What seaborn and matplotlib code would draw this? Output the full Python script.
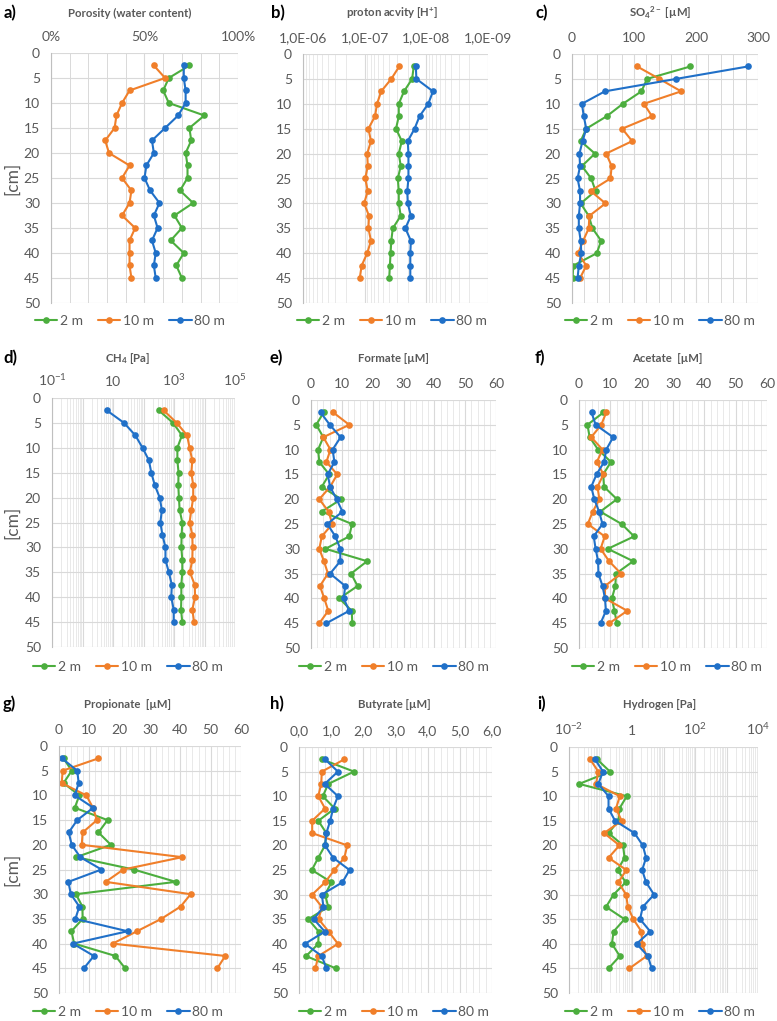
import matplotlib
matplotlib.use("Agg")
import matplotlib.pyplot as plt
import pandas as pd
import seaborn as sns
from matplotlib.lines import Line2D
from matplotlib.ticker import LogLocator, MultipleLocator, NullFormatter

sns.set_theme(style="white")
plt.rcParams["font.family"] = ["Lato", "DejaVu Sans"]
plt.rcParams["mathtext.default"] = "regular"

# depth of each slice [cm]
depth = [2.5, 5, 7.5, 10, 12.5, 15, 17.5, 20, 22.5, 25, 27.5, 30, 32.5, 35, 37.5, 40, 42.5, 45]
sites = ["2 m", "10 m", "80 m"]
colors = ["#4CAE3E", "#F07F2A", "#2070C8"]

# a) porosity [%]
poro_2m = [74, 63, 60, 63, 82, 74, 75, 72, 73, 73, 69, 76, 66, 70, 64, 71, 67, 70]
poro_10m = [55, 61, 42, 38, 35, 34, 29, 31, 42, 38, 43, 42, 38, 45, 42, 42, 42, 43]
poro_80m = [71, 71, 72, 72, 68, 61, 54, 55, 51, 50, 53, 58, 55, 57, 54, 56, 55, 56]

# b) proton activity [H+]
hplus_2m = [1.6e-8, 1.7e-8, 2.3e-8, 2.8e-8, 2.8e-8, 3.1e-8, 2.5e-8, 2.8e-8, 2.6e-8,
            2.9e-8, 2.8e-8, 2.8e-8, 2.6e-8, 3.5e-8, 3.7e-8, 3.8e-8, 3.9e-8, 4.0e-8]
hplus_10m = [2.75e-8, 3.7e-8, 5.4e-8, 6.3e-8, 6.8e-8, 8.7e-8, 7.9e-8, 9.1e-8, 8.9e-8,
             9.8e-8, 8.9e-8, 1.02e-7, 8.5e-8, 8.7e-8, 7.9e-8, 9.1e-8, 1.12e-7, 1.2e-7]
hplus_80m = [1.48e-8, 1.45e-8, 7.8e-9, 9.3e-9, 1.29e-8, 1.55e-8, 2.0e-8, 1.95e-8, 1.95e-8,
             1.95e-8, 2.04e-8, 2.0e-8, 1.78e-8, 2.19e-8, 1.78e-8, 1.82e-8, 1.82e-8, 1.82e-8]

# c) sulfate [uM]
so4_2m = [191, 121, 112, 82, 56, 23, 14, 37, 16, 31, 38, 14, 27, 33, 47, 40, 2, 1]
so4_10m = [105, 141, 176, 116, 129, 81, 97, 55, 64, 62, 30, 54, 28, 27, 18, 10, 23, 13]
so4_80m = [284, 168, 53, 16, 19, 23, 17, 12, 13, 9, 13, 13, 11, 11, 14, 15, 11, 9]

# d) methane [Pa]
ch4_2m = [320, 930, 1820, 1290, 1290, 1410, 1380, 1450, 1530, 1870, 1780, 1740, 1870,
          1870, 1740, 1740, 1700, 1870]
ch4_10m = [460, 1230, 2690, 3240, 3980, 3700, 4270, 4270, 3700, 3240, 3980, 4070, 3980,
           3310, 4790, 4900, 3980, 4570]
ch4_80m = [6.3, 23, 54, 93, 150, 180, 234, 340, 400, 357, 417, 525, 525, 676, 850, 813,
           977, 977]

# e) formate [uM]
formate_2m = [4.1, 1.7, 4.0, 2.3, 2.7, 5.9, 3.5, 9.8, 3.5, 13.3, 12.4, 4.7, 18.2, 13.0,
              15.1, 9.2, 13.2, 13.4]
formate_10m = [7.2, 12.4, 4.0, 6.3, 5.0, 8.5, 6.2, 2.7, 5.7, 6.9, 3.5, 2.7, 4.2, 5.5, 2.9,
               4.3, 5.6, 2.7]
formate_80m = [3.1, 6.1, 9.6, 7.0, 7.6, 5.4, 6.2, 8.3, 10.2, 5.3, 7.9, 9.5, 9.5, 6.2, 11.1,
               10.6, 12.4, 5.0]

# f) acetate [uM]
acetate_2m = [7.8, 2.7, 3.4, 6.1, 10.2, 7.7, 8.0, 12.1, 6.8, 13.6, 17.6, 9.2, 17.3, 11.8,
              11.6, 10.5, 11.3, 12.1]
acetate_10m = [8.7, 7.1, 3.9, 7.5, 5.7, 7.8, 5.9, 6.5, 4.4, 2.8, 8.2, 6.9, 9.6, 13.4, 8.3,
               8.3, 15.4, 9.7]
acetate_80m = [4.0, 5.3, 10.9, 8.7, 8.0, 5.6, 3.9, 4.9, 6.4, 7.5, 4.7, 5.3, 6.1, 6.2, 7.5,
               8.3, 8.6, 6.9]

# g) propionate [uM]
propionate_2m = [1.5, 4.2, 1.5, 6.7, 5.2, 16.0, 13.0, 17.1, 5.7, 24.6, 38.5, 5.6, 7.7, 7.8,
                 4.1, 5.0, 18.6, 21.8]
propionate_10m = [13.0, 1.2, 0.9, 9.0, 11.2, 12.5, 7.8, 7.5, 40.6, 21.2, 15.4, 43.4, 40.1,
                  33.7, 25.7, 17.7, 54.8, 52.2]
propionate_80m = [1.0, 6.0, 6.5, 5.2, 11.3, 6.0, 3.2, 4.2, 7.0, 14.0, 3.1, 3.9, 6.7, 5.4,
                  22.6, 4.6, 11.5, 8.2]

# h) butyrate [uM]
butyrate_2m = [0.71, 1.71, 0.91, 0.74, 1.11, 0.60, 0.85, 0.81, 0.60, 0.40, 1.01, 0.81, 0.91,
               0.29, 0.61, 0.60, 0.22, 1.15]
butyrate_10m = [1.41, 0.71, 0.69, 0.60, 0.81, 0.41, 0.41, 1.50, 1.41, 1.10, 0.81, 0.41, 0.71,
                0.61, 0.92, 1.21, 0.60, 0.51]
butyrate_80m = [0.81, 1.21, 0.80, 1.21, 1.06, 0.97, 0.85, 0.81, 1.06, 1.57, 1.35, 0.71, 0.76,
                0.46, 0.80, 0.19, 0.71, 0.85]

# i) hydrogen [Pa]
h2_2m = [0.078, 0.20, 0.021, 0.68, 0.40, 0.37, 0.18, 0.52, 0.58, 0.35, 0.63, 0.26, 0.15,
         0.58, 0.26, 0.23, 0.41, 0.18]
h2_10m = [0.047, 0.085, 0.072, 0.41, 0.31, 0.47, 0.13, 0.40, 0.18, 0.66, 0.37, 0.65, 0.74,
          1.1, 2.0, 2.1, 2.9, 0.83]
h2_80m = [0.067, 0.12, 0.085, 0.18, 0.18, 0.29, 1.2, 2.2, 2.8, 2.1, 2.8, 5.0, 2.2, 1.8, 3.8,
          1.4, 3.2, 4.2]

W, H = 777, 1021
fig = plt.figure(figsize=(W / 100, H / 100), dpi=100)

gray = "#595959"
grid_major = "#d9d9d9"
grid_minor = "#e9e9e9"


def px_rect(x0, y0, x1, y1):
    return [x0 / W, 1 - y1 / H, (x1 - x0) / W, (y1 - y0) / H]


panels = [
    dict(letter="a)", title="Porosity (water content)", data=[poro_2m, poro_10m, poro_80m],
         rect=(51, 53, 238, 303), lim=(0, 100), ticks=[0, 50, 100],
         labels=["0%", "50%", "100%"], minor=10, head=(130, 13, 4), legend_y=321, ylab=True),
    dict(letter="b)", title="proton acvity [H$^{+}$]", data=[hplus_2m, hplus_10m, hplus_80m],
         rect=(303, 54, 488, 303), lim=(1e-6, 1e-9), log=True,
         ticks=[1e-6, 1e-7, 1e-8, 1e-9],
         labels=["1,0E-06", "1,0E-07", "1,0E-08", "1,0E-09"], head=(392, 13, 271),
         legend_y=321),
    dict(letter="c)", title="SO$_{4}$$^{2-}$ [µM]", data=[so4_2m, so4_10m, so4_80m],
         rect=(572, 54, 758, 303), lim=(0, 300), ticks=[0, 100, 200, 300],
         labels=["0", "100", "200", "300"], minor=20, head=(660, 13, 535), legend_y=321),
    dict(letter="d)", title="CH$_{4}$ [Pa]", data=[ch4_2m, ch4_10m, ch4_80m],
         rect=(52, 398, 235, 647), lim=(0.1, 1e5), log=True,
         ticks=[0.1, 1, 10, 100, 1e3, 1e4, 1e5],
         labels=["$10^{-1}$", "", "10", "", "$10^{3}$", "", "$10^{5}$"],
         head=(128, 358, 3), legend_y=667, ylab=True),
    dict(letter="e)", title="Formate [µM]", data=[formate_2m, formate_10m, formate_80m],
         rect=(311, 400, 496, 648), lim=(0, 60), ticks=list(range(0, 61, 10)),
         labels=[str(v) for v in range(0, 61, 10)], minor=2, head=(394, 358, 270),
         legend_y=667),
    dict(letter="f)", title="Acetate  [µM]", data=[acetate_2m, acetate_10m, acetate_80m],
         rect=(579, 400, 767, 648), lim=(0, 60), ticks=list(range(0, 61, 10)),
         labels=[str(v) for v in range(0, 61, 10)], minor=2, head=(667, 358, 535),
         legend_y=667),
    dict(letter="g)", title="Propionate  [µM]",
         data=[propionate_2m, propionate_10m, propionate_80m],
         rect=(59, 746, 241, 993), lim=(0, 60), ticks=list(range(0, 61, 10)),
         labels=[str(v) for v in range(0, 61, 10)], minor=2, head=(128, 704, 3),
         legend_y=1012, ylab=True),
    dict(letter="h)", title="Butyrate [µM]", data=[butyrate_2m, butyrate_10m, butyrate_80m],
         rect=(299, 747, 492, 993), lim=(0, 6), ticks=[0, 1, 2, 3, 4, 5, 6],
         labels=["0,0", "1,0", "2,0", "3,0", "4,0", "5,0", "6,0"], minor=0.2,
         head=(394, 704, 270), legend_y=1012),
    dict(letter="i)", title="Hydrogen [Pa]", data=[h2_2m, h2_10m, h2_80m],
         rect=(569, 747, 758, 993), lim=(1e-2, 1e4), log=True,
         ticks=[1e-2, 1e-1, 1, 10, 100, 1e3, 1e4],
         labels=["$10^{-2}$", "", "1", "", "$10^{2}$", "", "$10^{4}$"],
         head=(660, 704, 537), legend_y=1012),
]

for p in panels:
    ax = fig.add_axes(px_rect(*p["rect"]))
    rows = []
    for site, vals in zip(sites, p["data"]):
        for d, v in zip(depth, vals):
            rows.append({"depth": d, "value": v, "site": site})
    df = pd.DataFrame(rows)

    if p.get("log"):
        ax.set_xscale("log")
    sns.lineplot(data=df, x="value", y="depth", hue="site", palette=colors,
                 orient="y", estimator=None, marker="o", markersize=4.8,
                 markeredgewidth=0, linewidth=1.5, legend=False, ax=ax)

    ax.set_xlim(*p["lim"])
    ax.set_ylim(50, 0)
    ax.yaxis.set_major_locator(MultipleLocator(5))
    ax.set_xticks(p["ticks"])
    ax.set_xticklabels(p["labels"])
    if p.get("log"):
        ax.xaxis.set_minor_locator(LogLocator(base=10, subs=range(2, 10), numticks=20))
        ax.xaxis.set_minor_formatter(NullFormatter())
        ax.grid(True, which="minor", axis="x", color=grid_minor, linewidth=0.7)
    else:
        ax.xaxis.set_minor_locator(MultipleLocator(p["minor"]))
        minor_col = grid_major if p["minor"] >= 10 else grid_minor
        ax.grid(True, which="minor", axis="x", color=minor_col, linewidth=0.7)
    ax.grid(True, which="major", axis="both", color=grid_major, linewidth=0.8)
    ax.set_axisbelow(True)

    # x axis on top, Excel-like
    ax.xaxis.tick_top()
    ax.tick_params(axis="both", which="both", length=0, labelsize=10, colors=gray)
    ax.tick_params(axis="x", pad=7)
    ax.tick_params(axis="y", pad=8)
    for side in ["top", "right", "bottom"]:
        ax.spines[side].set_visible(False)
    ax.spines["left"].set_color("#bfbfbf")
    ax.spines["left"].set_linewidth(0.8)
    ax.set_xlabel("")
    ax.set_ylabel("")

    tx, ty, lx = p["head"]
    fig.text(tx / W, 1 - ty / H, p["title"], ha="center", va="center", fontsize=8.2,
             fontweight="bold", color=gray)
    fig.text(lx / W, 1 - ty / H, p["letter"], ha="left", va="center", fontsize=12,
             fontweight="bold", color="black")

    if p.get("ylab"):
        x0, y0, x1, y1 = p["rect"]
        fig.text(12 / W, 1 - (y0 + y1) / 2 / H, "[cm]", rotation=90, ha="center",
                 va="center", fontsize=12.5, color=gray)

    handles = [Line2D([0], [0], color=c, marker="o", markersize=4.8, markeredgewidth=0,
                      linewidth=1.5) for c in colors]
    ax.legend(handles, sites, loc="center", bbox_to_anchor=(tx / W, 1 - p["legend_y"] / H),
              bbox_transform=fig.transFigure, ncol=3, frameon=False, fontsize=10,
              handlelength=1.6, handletextpad=0.2, columnspacing=1.1, labelcolor=gray)

fig.savefig("out.png", dpi=100)
